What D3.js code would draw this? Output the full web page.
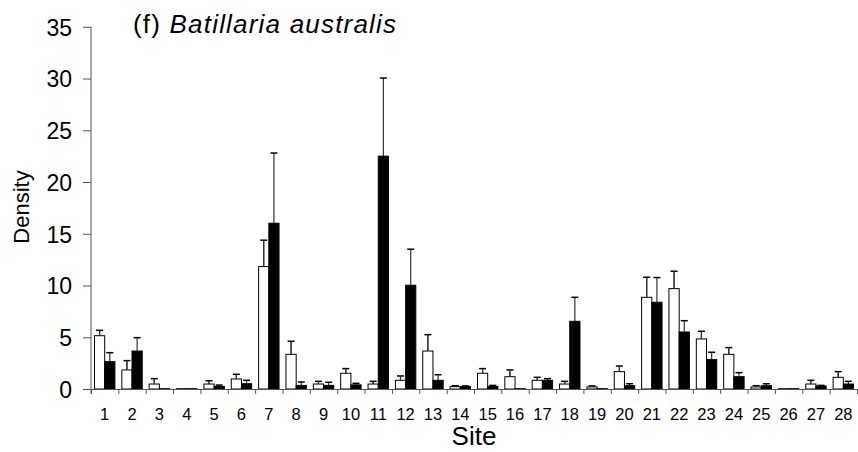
<!DOCTYPE html>
<html><head><meta charset="utf-8">
<script src="https://cdn.jsdelivr.net/npm/d3@7"></script>
<style>
html,body{margin:0;padding:0;background:#fff;}
svg{display:block;font-family:"Liberation Sans",Arial,sans-serif;}
</style></head>
<body><svg id="c" width="858" height="452"></svg>
<script>
const sites = d3.range(1, 29).map(String);
const openMean = [5.15,1.84,0.48,0.03,0.48,0.97,11.83,3.35,0.48,1.52,0.48,0.84,3.67,0.23,1.52,1.19,0.84,0.48,0.2,1.68,8.86,9.7,4.84,3.35,0.2,0.03,0.48,1.13];
const openErr  = [0.52,0.9,0.52,0,0.32,0.45,2.55,1.26,0.26,0.45,0.26,0.42,1.58,0.09,0.45,0.65,0.29,0.26,0.1,0.54,1.94,1.68,0.74,0.65,0.12,0,0.36,0.55];
const filledMean = [2.64,3.67,0.03,0.03,0.25,0.51,16.02,0.35,0.35,0.4,22.5,10.03,0.84,0.23,0.25,0.03,0.84,6.54,0.03,0.32,8.38,5.51,2.84,1.19,0.32,0.03,0.29,0.48];
const filledErr  = [0.87,1.29,0,0,0.13,0.33,6.78,0.33,0.3,0.15,7.55,3.48,0.54,0.07,0.1,0,0.16,2.32,0,0.19,2.39,1.09,0.71,0.39,0.19,0,0.06,0.26];
const yTicks = [0,5,10,15,20,25,30,35];
const titlePrefix = "(f) ";
const titleSpecies = "Batillaria australis";
const xTitle = "Site";
const yTitle = "Density";

const svg = d3.select("#c");
const x0 = 91, x1 = 857, yBase = 389, yTop = 26.8;
const x = d3.scaleBand().domain(sites).range([x0, x1]);
const xBound = d3.scaleLinear().domain([0, sites.length]).range([x0, x1]);
const y = d3.scaleLinear().domain([0, 35]).range([yBase, yTop]);
const sub = d3.scaleBand().domain(["open","filled"]).range([0, x.bandwidth()]).paddingOuter(0.34).paddingInner(0);

const rows = sites.map((s,i)=>[
  {site:s, key:"open", v:openMean[i], e:openErr[i]},
  {site:s, key:"filled", v:filledMean[i], e:filledErr[i]}
]).flat();

// error bars (drawn before bars so bar covers lower part)
const eb = svg.append("g");
rows.filter(d=>d.e>0).forEach(d=>{
  const cx = x(d.site) + sub(d.key) + sub.bandwidth()/2;
  eb.append("line").attr("x1",cx).attr("x2",cx).attr("y1",y(d.v)).attr("y2",y(d.v+d.e))
    .attr("stroke","#333").attr("stroke-width",1.2);
  eb.append("line").attr("x1",cx-3.5).attr("x2",cx+3.5).attr("y1",y(d.v+d.e)).attr("y2",y(d.v+d.e))
    .attr("stroke","#000").attr("stroke-width",1.5);
});

svg.append("g").selectAll("rect").data(rows).join("rect")
  .attr("x", d=>x(d.site)+sub(d.key))
  .attr("width", sub.bandwidth())
  .attr("y", d=>y(d.v))
  .attr("height", d=>Math.max(0.5, yBase - y(d.v)))
  .attr("fill", d=>d.key==="open" ? "#fff" : "#000")
  .attr("stroke","#000").attr("stroke-width",1);

// open-bar error lines inside white bars visible: redraw lines over open bars
rows.filter(d=>d.e>0 && d.key==="open").forEach(d=>{
  const cx = x(d.site) + sub(d.key) + sub.bandwidth()/2;
  svg.append("line").attr("x1",cx).attr("x2",cx).attr("y1",y(d.v)).attr("y2",y(d.v+d.e))
    .attr("stroke","#333").attr("stroke-width",1.2);
});

// y axis
const ya = svg.append("g").attr("transform",`translate(${x0},0)`)
  .call(d3.axisLeft(y).tickValues(yTicks).tickSize(8).tickSizeOuter(0).tickPadding(11));
ya.select(".domain").attr("d",`M0,${yTop}V${yBase+5}`).attr("stroke","#555");
ya.selectAll(".tick line").attr("stroke","#555");
ya.selectAll("text").attr("font-size",23).attr("fill","#000").attr("dy","0.36em")
  .attr("font-family","'Liberation Sans',Arial,sans-serif");

// x axis boundary ticks
const xb = svg.append("g").attr("transform",`translate(0,${yBase})`)
  .call(d3.axisBottom(xBound).tickValues(d3.range(0, sites.length+1)).tickSize(5).tickSizeOuter(0).tickFormat(""));
xb.select(".domain").attr("stroke","#555");
xb.selectAll(".tick line").attr("stroke","#555");

// x axis labels
const xl = svg.append("g").attr("transform",`translate(0,${yBase})`)
  .call(d3.axisBottom(x).tickSize(0).tickPadding(19));
xl.select(".domain").remove();
xl.selectAll("text").attr("font-size",16.5).attr("fill","#000").attr("dy","0.71em")
  .attr("font-family","'Liberation Sans',Arial,sans-serif");

// titles
svg.append("text").attr("x", 474).attr("y", 445).attr("text-anchor","middle")
  .attr("font-size",26).text(xTitle);
svg.append("text").attr("transform","translate(29,207) rotate(-90)").attr("text-anchor","middle")
  .attr("font-size",22).text(yTitle);
const t = svg.append("text").attr("x",133).attr("y",33).attr("font-size",26)
  .attr("textLength",263).attr("lengthAdjust","spacing");
t.append("tspan").text(titlePrefix);
t.append("tspan").attr("font-style","italic").text(titleSpecies);
</script></body></html>
